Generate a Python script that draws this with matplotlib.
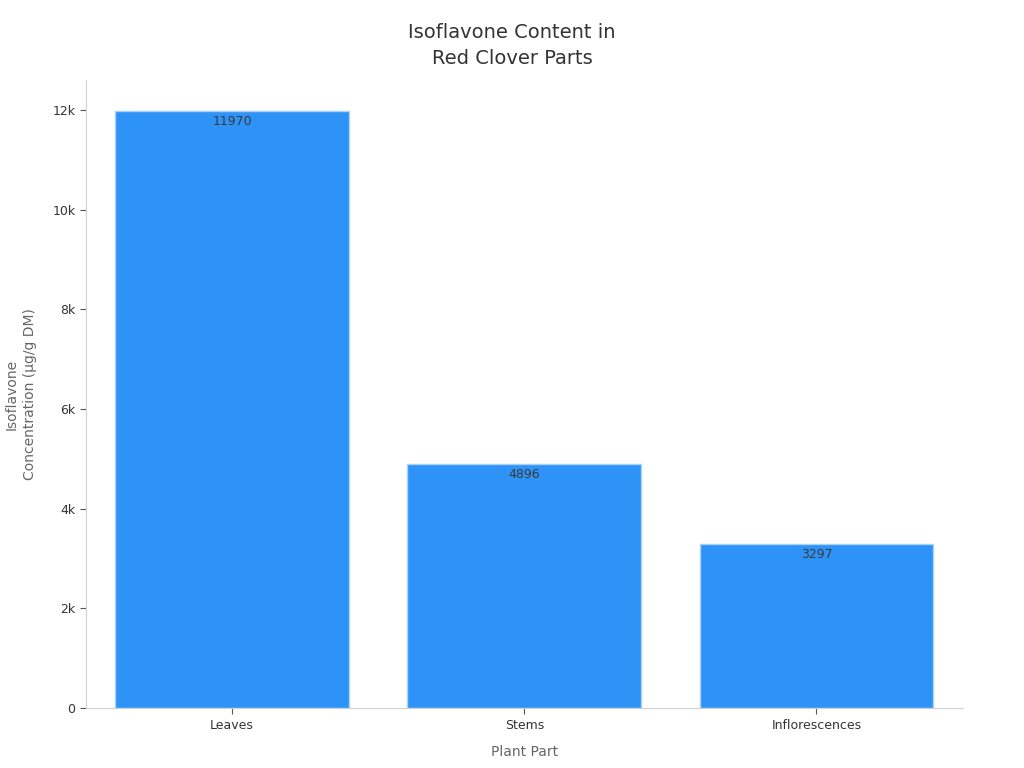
import matplotlib
matplotlib.use("Agg")
import matplotlib.pyplot as plt
from matplotlib.ticker import FuncFormatter

categories = ["Leaves", "Stems", "Inflorescences"]
values = [11970, 4896, 3297]

fig = plt.figure(figsize=(10.24, 7.68), dpi=100)
ax = fig.add_axes([0.084, 0.078, 0.856, 0.818])

x = range(len(categories))
bars = ax.bar(x, values, width=0.8, color="#2E93F7", edgecolor="#A8D2FB", linewidth=1)
for xi, v in zip(x, values):
    ax.annotate(str(v), (xi, v), xytext=(0, -3), textcoords="offset points",
                ha="center", va="top", fontsize=9, color="#3a3a3a")

ax.set_xlim(-0.5, 2.5)
ax.set_ylim(0, 12600)
ax.set_yticks([0, 2000, 4000, 6000, 8000, 10000, 12000])
ax.yaxis.set_major_formatter(FuncFormatter(lambda v, p: "0" if v == 0 else f"{int(v/1000)}k"))
ax.set_xticks(list(x))
ax.set_xticklabels(categories)

for s in ["top", "right"]:
    ax.spines[s].set_visible(False)
for s in ["left", "bottom"]:
    ax.spines[s].set_color("#d0d0d0")
ax.tick_params(axis="both", colors="#333333", labelsize=9, length=4)
ax.tick_params(axis="both", color="#555555")

ax.set_xlabel("Plant Part", fontsize=10, color="#666666", labelpad=10)
ax.set_ylabel("Isoflavone\nConcentration (µg/g DM)", fontsize=10, color="#666666",
              labelpad=11, linespacing=1.4)
fig.suptitle("Isoflavone Content in\nRed Clover Parts", fontsize=14, color="#333333",
             y=0.97, linespacing=1.45)

fig.savefig("out.png", dpi=100)
